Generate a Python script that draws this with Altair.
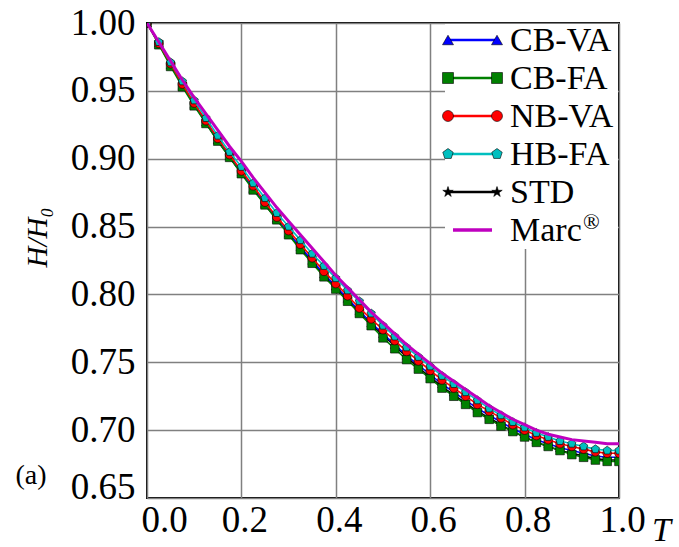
import altair as alt
import pandas as pd

T = [0.0, 0.025, 0.05, 0.075, 0.1, 0.125, 0.15, 0.175, 0.2, 0.225, 0.25, 0.275, 0.3,
     0.325, 0.35, 0.375, 0.4, 0.425, 0.45, 0.475, 0.5, 0.525, 0.55, 0.575, 0.6, 0.625,
     0.65, 0.675, 0.7, 0.725, 0.75, 0.775, 0.8, 0.825, 0.85, 0.875, 0.9, 0.925, 0.95,
     0.975, 1.0]

std = [1.000, .985, .969, .954, .940, .926, .913, .901, .889, .878, .866, .855, .845, .834,
       .824, .814, .805, .796, .787, .778, .770, .762, .754, .746, .739, .732, .726, .720,
       .714, .709, .704, .699, .695, .691, .688, .685, .683, .681, .679, .678, .678]
cb_va = [1.000, .985, .969, .954, .940, .927, .914, .902, .890, .878, .867, .856, .845, .835,
         .825, .815, .806, .797, .788, .779, .771, .763, .755, .748, .741, .734, .728, .722,
         .716, .711, .706, .701, .697, .693, .690, .687, .685, .683, .681, .680, .680]
cb_fa = [1.000, .984, .968, .953, .939, .926, .913, .901, .889, .877, .866, .855, .844, .833,
         .823, .813, .804, .795, .786, .777, .768, .760, .752, .745, .738, .731, .725, .719,
         .713, .708, .703, .699, .695, .691, .688, .685, .682, .680, .678, .677, .677]
nb_va = [1.000, .985, .970, .955, .941, .928, .915, .903, .891, .880, .868, .857, .847, .837,
         .827, .817, .808, .799, .790, .782, .774, .766, .758, .751, .744, .737, .731, .725,
         .719, .714, .709, .704, .700, .696, .693, .690, .688, .686, .684, .683, .683]
hb_fa = [1.000, .986, .971, .957, .943, .930, .917, .905, .894, .882, .871, .860, .850, .840,
         .830, .821, .812, .803, .795, .786, .777, .769, .761, .754, .747, .740, .734, .728,
         .722, .716, .711, .706, .702, .698, .695, .692, .690, .688, .686, .685, .685]
marc = [1.000, .986, .972, .958, .945, .933, .921, .909, .898, .886, .875, .864, .854, .844,
        .834, .824, .814, .805, .796, .787, .779, .771, .763, .756, .749, .742, .736, .730,
        .724, .718, .713, .708, .704, .700, .697, .695, .693, .692, .691, .690, .690]

x_ticks = [0.0, 0.2, 0.4, 0.6, 0.8, 1.0]
y_ticks = [0.65, 0.70, 0.75, 0.80, 0.85, 0.90, 0.95, 1.00]

PENT = "M0,-1L0.951,-0.309L0.588,0.809L-0.588,0.809L-0.951,-0.309Z"
STAR = ("M0,-1L0.225,-0.309L0.951,-0.309L0.363,0.118L0.588,0.809L0,0.382"
        "L-0.588,0.809L-0.363,0.118L-0.951,-0.309L-0.225,-0.309Z")

FONT = "Liberation Serif"
GRID = "#808080"

X = alt.X("T:Q", scale=alt.Scale(domain=[0, 1], nice=False, zero=False),
          axis=alt.Axis(values=x_ticks, format=".1f", grid=True, gridColor=GRID, gridWidth=1.5,
                        gridOpacity=1, ticks=False, domain=False, labelFlush=False,
                        labelFont=FONT, labelFontSize=37, labelPadding=4, labelColor="black",
                        labelOffset={"condition": {"test": "datum.value < 0.01", "value": 17}, "value": 3},
                        title="T", titleFont=FONT, titleFontStyle="italic", titleFontWeight="normal",
                        titleFontSize=34, titleX=514, titleY=32, titleAlign="center",
                        titleBaseline="middle", titleColor="black"))
Y = alt.Y("H:Q", scale=alt.Scale(domain=[0.65, 1.0], nice=False, zero=False),
          axis=alt.Axis(values=y_ticks, format=".2f", grid=True, gridColor=GRID, gridWidth=1.5,
                        gridOpacity=1, ticks=False, domain=False, labelFlush=False,
                        labelFont=FONT, labelFontSize=37, labelPadding=12, labelColor="black",
                        labelOffset={"condition": {"test": "datum.value < 0.651", "value": -11}, "value": 0},
                        title="H/H₀", titleFont=FONT, titleFontStyle="italic", titleFontWeight="normal",
                        titleFontSize=29, titleX=-110, titleY=214, titleAngle=270,
                        titleAlign="center", titleBaseline="middle", titleColor="black"))

series = [
    ("STD", std, "black", STAR),
    ("CB-VA", cb_va, "#0000ff", "triangle-up"),
    ("CB-FA", cb_fa, "#008000", "square"),
    ("NB-VA", nb_va, "#ff0000", "circle"),
    ("HB-FA", hb_fa, "#00bfbf", PENT),
]

layers = []
for name, vals, color, shape in series:
    d = pd.DataFrame({"T": T, "H": vals})
    base = alt.Chart(d)
    layers.append(base.mark_line(color=color, strokeWidth=1.6, clip=True).encode(x=X, y=Y))
    layers.append(base.mark_point(shape=shape, filled=True, fill=color, stroke="black",
                                  strokeWidth=0.6, size=75, opacity=1, clip=True).encode(x=X, y=Y))

marc_df = pd.DataFrame({"T": T, "H": marc})
layers.append(alt.Chart(marc_df).mark_line(color="#bf00bf", strokeWidth=3, clip=True).encode(x=X, y=Y))

# legend box
one = pd.DataFrame({"k": [0]})
layers.append(alt.Chart(one).mark_rect(color="white").encode(
    x=alt.value(298), x2=alt.value(471), y=alt.value(1), y2=alt.value(226)))

legend_items = [
    ("CB-VA", "#0000ff", "triangle-up"),
    ("CB-FA", "#008000", "square"),
    ("NB-VA", "#ff0000", "circle"),
    ("HB-FA", "#00bfbf", PENT),
    ("STD", "black", STAR),
    ("Marc", "#bf00bf", None),
]
for i, (name, color, shape) in enumerate(legend_items):
    yi = 17 + 38 * i
    ld = pd.DataFrame({"label": [name]})
    lb = alt.Chart(ld)
    if shape is None:
        layers.append(lb.mark_rule(color=color, strokeWidth=3.5).encode(
            x=alt.value(306), x2=alt.value(345), y=alt.value(yi)))
    else:
        layers.append(lb.mark_rule(color=color, strokeWidth=2.5).encode(
            x=alt.value(301), x2=alt.value(350), y=alt.value(yi)))
        for xx in (301, 350):
            layers.append(lb.mark_point(shape=shape, filled=True, fill=color, stroke="black",
                                        strokeWidth=0.6, size=120, opacity=1).encode(
                x=alt.value(xx), y=alt.value(yi)))
    layers.append(lb.mark_text(align="left", baseline="middle", font=FONT, fontSize=34,
                               color="black").encode(
        x=alt.value(363), y=alt.value(yi + 1), text="label:N"))
    if shape is None:
        layers.append(alt.Chart(pd.DataFrame({"s": ["®"]})).mark_text(
            align="left", baseline="middle", font=FONT, fontSize=22, color="black").encode(
            x=alt.value(436), y=alt.value(yi - 8), text="s:N"))

layers.append(alt.Chart(pd.DataFrame({"a": ["(a)"]})).mark_text(
    align="center", baseline="middle", font=FONT, fontSize=28, color="black").encode(
    x=alt.value(-116), y=alt.value(453), text="a:N"))

chart = alt.layer(*layers).properties(
    width=472, height=475,
    background="white",
    autosize=alt.AutoSizeParams(type="none"),
    padding={"left": 147, "top": 23, "right": 60, "bottom": 49},
).configure_view(stroke="black", strokeWidth=2)

chart.save("out.html", embed_options={"renderer": "svg", "actions": False})
